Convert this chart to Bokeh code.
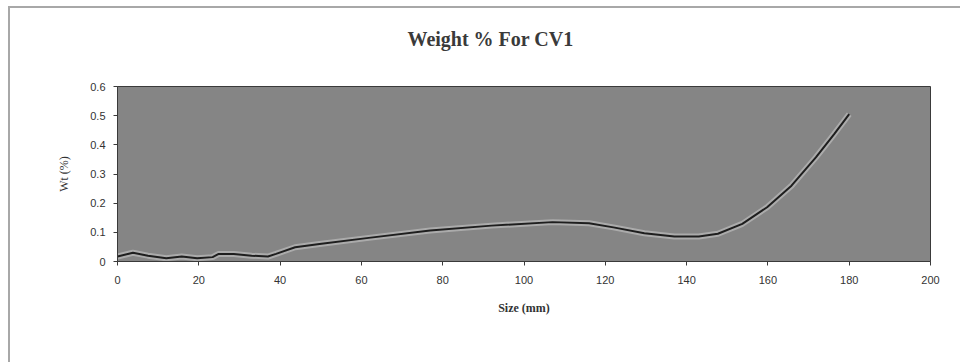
from bokeh.plotting import figure
from bokeh.embed import file_html
from bokeh.resources import INLINE
from bokeh.models import Range1d, FixedTicker, Title

# Data
size_mm = [0, 3.8, 7.5, 12, 15.8, 19.6, 23.4, 24.9, 28.6, 33, 37, 39, 43.7, 49.7,
           61.8, 76.9, 92, 107, 116, 122, 129.6, 137, 143, 147.7, 153.7, 159.8,
           165.8, 171.8, 176.3, 180]
weight_pct = [0.017, 0.03, 0.02, 0.011, 0.017, 0.011, 0.015, 0.026, 0.026, 0.02,
              0.017, 0.026, 0.049, 0.06, 0.081, 0.106, 0.123, 0.135, 0.131, 0.117,
              0.097, 0.086, 0.086, 0.095, 0.129, 0.186, 0.26, 0.357, 0.437, 0.505]
x_ticks = [0, 20, 40, 60, 80, 100, 120, 140, 160, 180, 200]
y_ticks = [0, 0.1, 0.2, 0.3, 0.4, 0.5, 0.6]
y_tick_labels = {0: "0", 0.1: "0.1", 0.2: "0.2", 0.3: "0.3", 0.4: "0.4", 0.5: "0.5", 0.6: "0.6"}

p = figure(width=952, height=356, output_backend="svg", toolbar_location=None,
           x_range=Range1d(0, 200), y_range=Range1d(0, 0.6),
           min_border_left=107, min_border_right=32, min_border_top=78,
           min_border_bottom=103, title="Weight % For CV1")
p.styles = {"margin-left": "8px", "margin-top": "6px",
            "border-left": "2px solid #a8a8a8", "border-top": "2px solid #a8a8a8"}

p.title.align = "left"
p.title.offset = 290
p.title.text_font = "Liberation Serif"
p.title.text_font_style = "bold"
p.title.text_font_size = "20px"
p.title.text_color = "#3a3a3a"
p.title.standoff = 0

# spacer between title and frame
p.add_layout(Title(text=" ", text_font_size="18px", standoff=15), "above")

p.background_fill_color = "#858585"
p.border_fill_color = "white"
p.outline_line_color = "#3a3a3a"
p.outline_line_width = 1
p.grid.visible = False

# halo and curve
p.line(size_mm, weight_pct, line_color="#c4c4c4", line_width=6, line_alpha=0.6)
p.line(size_mm, weight_pct, line_color="#1e1e1e", line_width=2)

for ax in (p.xaxis[0], p.yaxis[0]):
    ax.axis_line_color = "#3a3a3a"
    ax.major_tick_line_color = "#3a3a3a"
    ax.minor_tick_line_color = None
    ax.major_tick_in = 0
    ax.major_tick_out = 4
    ax.major_label_text_font = "Liberation Sans"
    ax.major_label_text_font_size = "11px"
    ax.major_label_text_color = "#333333"

p.xaxis.ticker = FixedTicker(ticks=x_ticks)
p.yaxis.ticker = FixedTicker(ticks=y_ticks)
p.yaxis.major_label_overrides = y_tick_labels
p.xaxis.major_label_standoff = 10
p.yaxis.major_label_standoff = 8

p.xaxis.axis_label = "Size (mm)"
p.xaxis.axis_label_text_font = "Liberation Serif"
p.xaxis.axis_label_text_font_style = "bold"
p.xaxis.axis_label_text_font_size = "12px"
p.xaxis.axis_label_text_color = "#333333"
p.xaxis.axis_label_standoff = 14

p.yaxis.axis_label = "Wt (%)"
p.yaxis.axis_label_text_font = "Liberation Serif"
p.yaxis.axis_label_text_font_style = "normal"
p.yaxis.axis_label_text_font_size = "12px"
p.yaxis.axis_label_text_color = "#333333"
p.yaxis.axis_label_standoff = 16

open("out.html", "w").write(file_html(p, INLINE))
